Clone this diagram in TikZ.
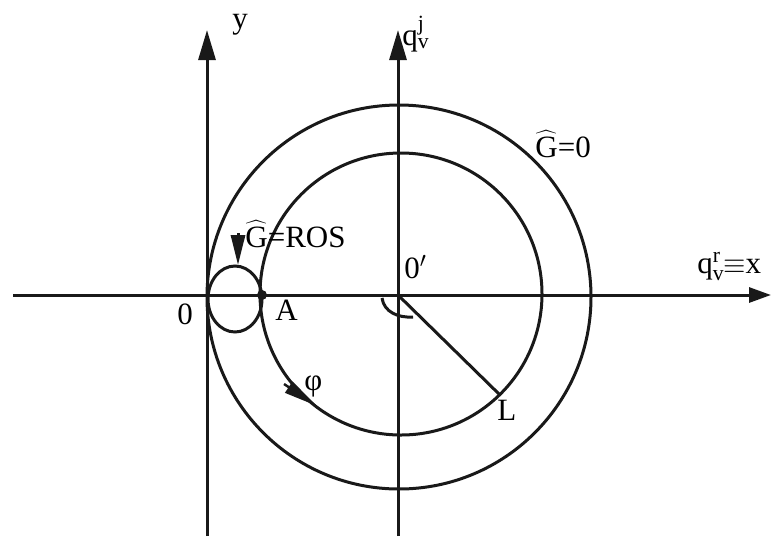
\documentclass[tikz,border=0pt]{standalone}
\usepackage{fontspec}
\setmainfont{Liberation Serif}
\usepackage{tikz}
\usetikzlibrary{arrows.meta,positioning,calc}
\tikzset{
    % Lines
    geLine/.style={line width=1.5pt, draw=black!90},
    geAxis/.style={geLine, -{Triangle[length=15pt,width=8.5pt]}},
    geAxisX/.style={geLine, -{Triangle[length=11pt,width=7.5pt]}},
    geMark/.style={geLine, -{Triangle[length=15pt,width=7pt]}},
    gePhi/.style={line width=1.2pt, draw=black!90, -{Triangle[length=17pt,width=6.5pt]}},
    % Labels
    geLabel/.style={font=\fontsize{15.5}{18}\selectfont, inner sep=0pt, anchor=base west}
}

\begin{document}
\begin{tikzpicture}[x=0.5pt, y=-0.5pt]
\useasboundingbox (0,0) rectangle (771,537);
\coordinate (xStart) at (13,295);
\coordinate (xEnd) at (771,295);
\coordinate (yStart) at (207,536);
\coordinate (yEnd) at (207,30);
\coordinate (jStart) at (398,536);
\coordinate (jEnd) at (398,30);
\coordinate (Oprime) at (398,295);
\coordinate (L) at (500,395);
\coordinate (A) at (262,295);
\coordinate (rosTail) at (238,233);
\coordinate (rosTip) at (238,265);
\coordinate (phiTail) at (284,384);
\coordinate (phiTip) at (317,406);
\draw[geAxisX] (xStart) -- (xEnd);
\draw[geAxis] (yStart) -- (yEnd);
\draw[geAxis] (jStart) -- (jEnd);
\draw[geLine] (399,297) circle [radius=192];
\draw[geLine] (401,294) circle [radius=141];
\draw[geLine] (235,299) ellipse [x radius=27, y radius=33];
\fill[black!90] (A) circle [radius=5];
\draw[geLine] (Oprime) -- (L);
\draw[geLine] (382,298) .. controls (384,312) and (398,318) .. (413,317);
\draw[geMark] (rosTail) -- (rosTip);
\draw[gePhi] (phiTail) -- (phiTip);
\node[geLabel] (labY) at (232,28) {y};
\node[geLabel] (labJ) at (402,45) {$\mathrm{q}^{\mathrm{j}}_{\mathrm{v}}$};
\node[geLabel] (labX) at (697,273) {$\mathrm{q}^{\mathrm{r}}_{\mathrm{v}}\!\!\equiv$x};
\node[geLabel] (labG) at (535,157) {$\widehat{\mathrm{G}}$=0};
\node[geLabel] (labRos) at (245,247) {$\widehat{\mathrm{G}}$=ROS};
\node[geLabel] (labOp) at (404,278) {0$'$};
\node[geLabel] (labO) at (177,324) {0};
\node[geLabel] (labA) at (275,320) {A};
\node[geLabel] (labL) at (497,420) {L};
\node[geLabel] (labPhi) at (304,390) {φ};
\end{tikzpicture}
\end{document}
